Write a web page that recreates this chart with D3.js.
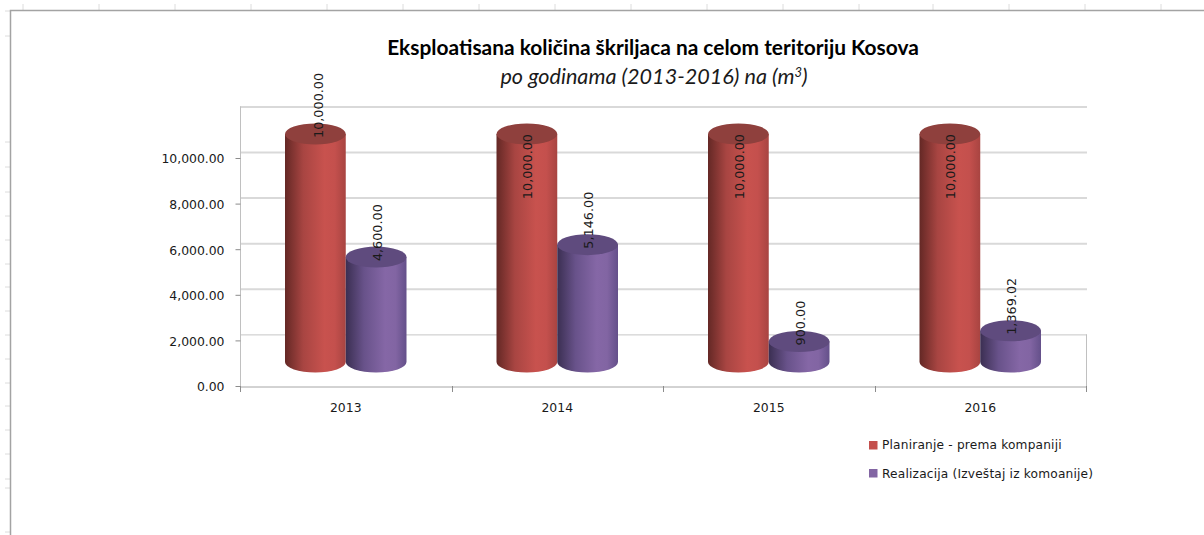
<!DOCTYPE html>
<html>
<head>
<meta charset="utf-8">
<script src="https://cdn.jsdelivr.net/npm/d3@7"></script>
<style>
  html, body { margin: 0; padding: 0; background: #fff; overflow: hidden; }
  text { fill: #1a1a1a; }
</style>
</head>
<body>
<div id="chart"></div>
<script>
// Values
const years = ["2013", "2014", "2015", "2016"];
const seriesNames = ["Planiranje - prema kompaniji", "Realizacija (Izveštaj iz komoanije)"];
const planned = [10000, 10000, 10000, 10000];
const realized = [4600, 5146, 900, 1369.02];
const yTicks = [0, 2000, 4000, 6000, 8000, 10000];
const gridTicks = [2000, 4000, 6000, 8000, 10000, 12000];

const titleText = "Eksploatisana količina škriljaca na celom teritoriju Kosova";
const subtitleText = "po godinama (2013-2016) na (m";

// Spreadsheet cell marks behind the chart object
const sheetRows = [11, 36, 142, 167, 192, 216, 240, 264, 287, 311, 335, 359, 383, 406, 430, 454, 479, 488, 532];
const sheetCols = [23, 99, 175, 251, 327, 403, 479, 555, 631, 707, 783, 859, 933, 1009, 1085, 1161];

const WIDTH = 1204;
const HEIGHT = 535;
const PLOT = { LEFT: 240, RIGHT: 1086, BOTTOM: 386, TOP: 112.4 };
const BACK_SHIFT = 6;     // back wall sits this far above the front axis
const BASE_SHIFT = 24;    // cylinders stand this far behind the front axis
const CAP_RY = 10.5;
const BAR_FONT = "'DejaVu Sans', sans-serif";

const colors = [
  { side: ["#642825", "#a84542", "#c8524e", "#c4504d", "#a84441"], cap: "#8f403d" },
  { side: ["#3b2f52", "#68528a", "#8567a6", "#8265a3", "#64508a"], cap: "#5f4b7e" }
];

const svg = d3.select("#chart").append("svg")
  .attr("width", WIDTH)
  .attr("height", HEIGHT)
  .style("display", "block");

const defs = svg.append("defs");
colors.forEach((c, i) => {
  const grad = defs.append("linearGradient").attr("id", "side" + i);
  [0, 0.3, 0.65, 0.82, 1].forEach((o, k) => {
    grad.append("stop").attr("offset", o).attr("stop-color", c.side[k]);
  });
});

// Worksheet frame
svg.append("g").selectAll("line").data(sheetRows).enter().append("line")
  .attr("x1", 5).attr("x2", 10).attr("y1", d => d).attr("y2", d => d)
  .attr("stroke", "#dcdcdc");
svg.append("g").selectAll("line").data(sheetCols).enter().append("line")
  .attr("x1", d => d).attr("x2", d => d).attr("y1", 4).attr("y2", 10)
  .attr("stroke", "#dcdcdc");
svg.append("path")
  .attr("d", `M10.5,${HEIGHT}V10.5H${WIDTH}`)
  .attr("fill", "none")
  .attr("stroke", "#a3a3a3")
  .attr("stroke-width", 1.5);

// Scales
const y = d3.scaleLinear().domain([0, 12000]).range([PLOT.BOTTOM, PLOT.TOP]);
const x0 = d3.scaleBand().domain(years).range([PLOT.LEFT, PLOT.RIGHT]);
const x1 = d3.scaleBand().domain(d3.range(seriesNames.length))
  .range([45, x0.bandwidth() - 45]);

// Back wall
svg.append("g").selectAll("line").data(gridTicks).enter().append("line")
  .attr("x1", PLOT.LEFT).attr("x2", PLOT.RIGHT + 1)
  .attr("y1", d => y(d) - BACK_SHIFT + 0.5).attr("y2", d => y(d) - BACK_SHIFT + 0.5)
  .attr("stroke", d => d === 2000 ? "#c6c6c6" : "#d9d9d9")
  .attr("stroke-width", d => d === 2000 ? 1 : 2);
svg.append("line")
  .attr("x1", PLOT.RIGHT + 0.5).attr("x2", PLOT.RIGHT + 0.5)
  .attr("y1", y(2000) - BACK_SHIFT).attr("y2", y(0) + 5)
  .attr("stroke", "#c0c0c0");

// Axes
const yAxis = svg.append("g")
  .attr("transform", `translate(${PLOT.LEFT + 0.5},0)`)
  .call(d3.axisLeft(y).tickValues(yTicks).tickFormat(d3.format(",.2f")).tickSize(5).tickPadding(11));
yAxis.select(".domain")
  .attr("d", `M0,${y(12000) - BACK_SHIFT}V${y(0) + 5}`)
  .attr("stroke", "#c0c0c0");
yAxis.selectAll(".tick line").attr("stroke", "#8c8c8c");
yAxis.selectAll("text")
  .attr("dy", "0.4em")
  .style("font-family", BAR_FONT)
  .style("font-size", "12.4px")
  .style("fill", "#1a1a1a");

const xAxis = svg.append("g")
  .attr("transform", `translate(0,${PLOT.BOTTOM + 0.5})`)
  .call(d3.axisBottom(x0).tickSize(0).tickPadding(17));
xAxis.select(".domain").attr("stroke", "#a6a6a6");
xAxis.selectAll("text")
  .style("font-family", BAR_FONT)
  .style("font-size", "12.4px")
  .style("fill", "#1a1a1a");
svg.append("g").selectAll("line")
  .data(years.map(d => x0(d)).concat(PLOT.RIGHT))
  .enter().append("line")
  .attr("x1", d => Math.round(d) + 0.5).attr("x2", d => Math.round(d) + 0.5)
  .attr("y1", PLOT.BOTTOM).attr("y2", PLOT.BOTTOM + 6)
  .attr("stroke", "#8c8c8c");

// Cylinders
const rows = [];
years.forEach((year, i) => {
  [planned[i], realized[i]].forEach((value, s) => {
    rows.push({ year, s, value });
  });
});

const cylX = d => x0(d.year) + x1(d.s);
const capY = d => y(d.value) - BASE_SHIFT;
const baseY = y(0) - BASE_SHIFT;

const bars = svg.append("g").selectAll("g").data(rows).enter().append("g");

bars.append("path")
  .attr("fill", d => `url(#side${d.s})`)
  .attr("d", d => {
    const w = x1.bandwidth();
    const rx = w / 2;
    return `M${cylX(d)},${capY(d)}V${baseY}` +
      `A${rx},${CAP_RY} 0 0 0 ${cylX(d) + w},${baseY}` +
      `V${capY(d)}Z`;
  });

bars.append("ellipse")
  .attr("cx", d => cylX(d) + x1.bandwidth() / 2)
  .attr("cy", capY)
  .attr("rx", x1.bandwidth() / 2)
  .attr("ry", CAP_RY)
  .attr("fill", d => colors[d.s].cap);

// Data labels: most start at the cap, the last three planned ones hang down from it
const hangs = d => d.s === 0 && d.year !== years[0];
svg.append("g").selectAll("text").data(rows).enter().append("text")
  .attr("transform", d => {
    const cx = cylX(d) + x1.bandwidth() / 2 + (d.s === 0 && d.year === years[0] ? 3 : 1);
    const cy = capY(d) + (hangs(d) ? 0 : 4);
    return `translate(${cx},${cy}) rotate(-90)`;
  })
  .attr("text-anchor", d => hangs(d) ? "end" : "start")
  .attr("dy", "0.35em")
  .style("font-family", BAR_FONT)
  .style("font-size", "12.8px")
  .text(d => d3.format(",.2f")(d.value));

// Title
svg.append("text")
  .attr("x", 653).attr("y", 55)
  .attr("text-anchor", "middle")
  .style("font-family", "Lato, sans-serif")
  .style("font-weight", 700)
  .style("font-size", "20.9px")
  .style("fill", "#000")
  .text(titleText);

const sub = svg.append("text")
  .attr("x", 654).attr("y", 84)
  .attr("text-anchor", "middle")
  .style("font-family", "Lato, sans-serif")
  .style("font-style", "italic")
  .style("font-size", "21.6px")
  .text(subtitleText);
sub.append("tspan").attr("dy", -7).style("font-size", "13px").text("3");
sub.append("tspan").attr("dy", 7).text(")");

// Legend
const legend = svg.append("g").selectAll("g").data(seriesNames).enter().append("g")
  .attr("transform", (d, i) => `translate(869,${441 + i * 28})`);
legend.append("rect")
  .attr("width", 8.5).attr("height", 8.5)
  .attr("fill", (d, i) => colors[i].side[3]);
legend.append("text")
  .attr("x", 13).attr("y", (d, i) => i === 0 ? 8 : 9)
  .style("font-family", BAR_FONT)
  .style("font-size", "12.2px")
  .style("letter-spacing", "0.18px")
  .text(d => d);
</script>
</body>
</html>
